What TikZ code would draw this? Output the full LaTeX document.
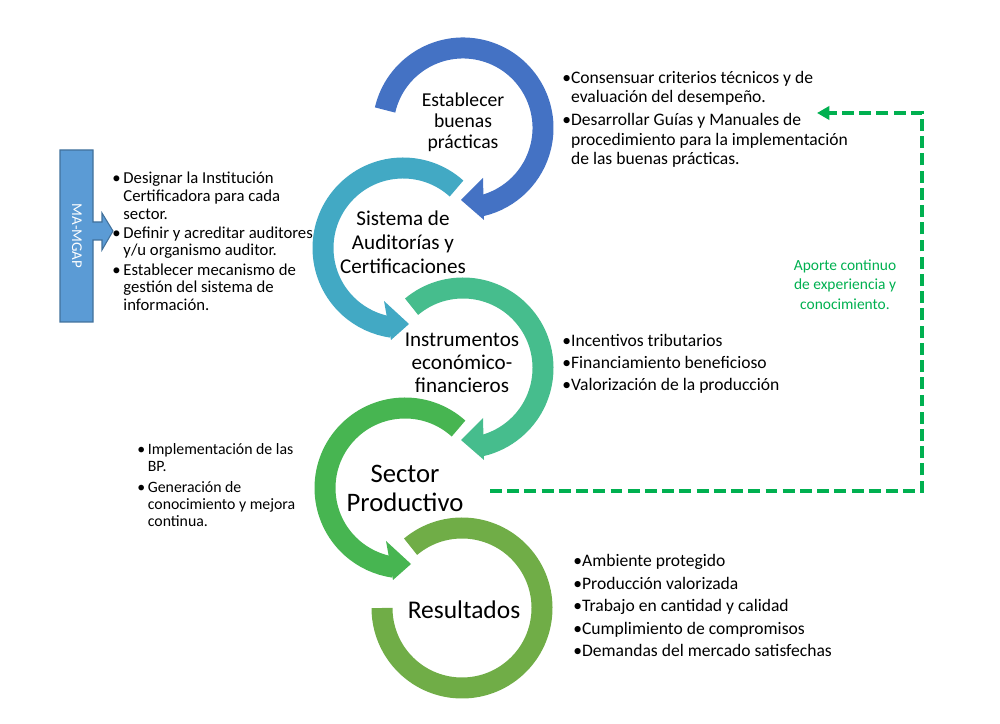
\documentclass[tikz,border=0pt]{standalone}
\usepackage{fontspec}
\setmainfont{Carlito}
\usetikzlibrary{arrows.meta}
\definecolor{ringA}{HTML}{4472C4}
\definecolor{ringB}{HTML}{42A9C4}
\definecolor{ringC}{HTML}{46BD8D}
\definecolor{ringD}{HTML}{47B551}
\definecolor{ringE}{HTML}{70AD47}
\definecolor{maFill}{HTML}{5B9BD5}
\definecolor{maLine}{HTML}{41719C}
\definecolor{aporte}{HTML}{00B050}
\newcommand{\ind}{\hphantom{\textbullet}}
\newcommand{\indsp}{\hphantom{\textbullet\,}}
\tikzset{
  ring/.style={line width=0.42cm},
  ringtxt/.style={align=center, inner sep=0pt},
  bullets/.style={align=left, anchor=north west, inner sep=0pt},
  feedback/.style={aporte, line width=2.3pt, dash pattern=on 6.8pt off 3pt, -{Triangle[length=7pt,width=7.5pt]}}
}
\begin{document}
\begin{tikzpicture}[x=0.02cm,y=0.02cm]
\useasboundingbox (0,0) rectangle (1000,723);
% circular arrows
\draw[ring, ringA] (463,595) ++(167:80) arc[start angle=167, end angle=-77, radius=80];
\fill[ringA] (463,595) ++(20,-50) -- ++(-22,-22) -- ++(23,-20) -- cycle;
\draw[ring, ringB] (403,475) ++(48:80) arc[start angle=48, end angle=262, radius=80];
\fill[ringB] (403,475) ++(-19,-53) -- ++(25,-23) -- ++(-18,-16) -- cycle;
\draw[ring, ringC] (463,355) ++(130:80) arc[start angle=130, end angle=-77, radius=80];
\fill[ringC] (463,355) ++(20,-50) -- ++(-22,-22) -- ++(23,-20) -- cycle;
\draw[ring, ringD] (405,235) ++(48:80) arc[start angle=48, end angle=262, radius=80];
\fill[ringD] (405,235) ++(-19,-53) -- ++(25,-23) -- ++(-18,-16) -- cycle;
\draw[ring, ringE] (462,115) ++(130:80) arc[start angle=130, end angle=-180, radius=80];

% labels inside the circles
\node[ringtxt, font=\fontsize{11.2}{11.9}\selectfont] (est) at (463,601) {Establecer\\buenas\\prácticas};
\node[ringtxt, font=\fontsize{12}{13.6}\selectfont] (sis) at (403,481) {Sistema de\\Auditorías y\\Certificaciones};
\node[ringtxt, font=\fontsize{12}{13}\selectfont] (ins) at (462,360) {Instrumentos\\económico-\\financieros};
\node[ringtxt, font=\fontsize{15.2}{16.5}\selectfont] (sec) at (405,235) {Sector\\Productivo};
\node[ringtxt, font=\fontsize{14.5}{16}\selectfont] (res) at (464,113) {Resultados};

% MA-MGAP callout
\filldraw[fill=maFill, draw=maLine, line width=0.6pt] (60,573) -- (93,573) -- (93,501) -- (102,501) -- (102,510) -- (113,492) -- (102,473) -- (102,483) -- (93,483) -- (93,401) -- (60,401) -- cycle;
\node[white, rotate=-90, font=\fontsize{8.5}{10}\selectfont] (ma) at (77,487) {MA-MGAP};

% bullet lists
\node[bullets, font=\fontsize{10}{11}\selectfont] (txtEst) at (562,652) {\textbullet Consensuar criterios técnicos y de\\
  \ind evaluación del desempeño.\\[2pt]
  \textbullet Desarrollar Guías y Manuales de\\
  \ind procedimiento para la implementación\\
  \ind de las buenas prácticas.};
\node[bullets, font=\fontsize{9.5}{10}\selectfont] (txtSis) at (112,551) {\textbullet\,Designar la Institución\\
  \indsp Certificadora para cada\\
  \indsp sector.\\[1pt]
  \textbullet\,Definir y acreditar auditores\\
  \indsp y/u organismo auditor.\\[1pt]
  \textbullet\,Establecer mecanismo de\\
  \indsp gestión del sistema de\\
  \indsp información.};
\node[bullets, font=\fontsize{10}{12.5}\selectfont] (txtIns) at (562,389) {\textbullet Incentivos tributarios\\
  \textbullet Financiamiento beneficioso\\
  \textbullet Valorización de la producción};
\node[bullets, font=\fontsize{9}{9.8}\selectfont] (txtSec) at (137,280) {\textbullet\,Implementación de las\\
  \indsp BP.\\[2pt]
  \textbullet\,Generación de\\
  \indsp conocimiento y mejora\\
  \indsp continua.};
\node[bullets, font=\fontsize{10}{12.8}\selectfont] (txtRes) at (573,169) {\textbullet Ambiente protegido\\
  \textbullet Producción valorizada\\
  \textbullet Trabajo en cantidad y calidad\\
  \textbullet Cumplimiento de compromisos\\
  \textbullet Demandas del mercado satisfechas};

% feedback loop
\coordinate (fbstart) at (490,232);
\coordinate (fbcorner) at (922,610);
\coordinate (fbend) at (817,610);
\draw[feedback] (fbstart) -| (fbcorner) -- (fbend);
\node[aporte, align=center, anchor=north, inner sep=0pt, font=\fontsize{8.8}{11.3}\selectfont] (txtAporte) at (845,464) {Aporte continuo\\de experiencia y\\conocimiento.};
\end{tikzpicture}
\end{document}
